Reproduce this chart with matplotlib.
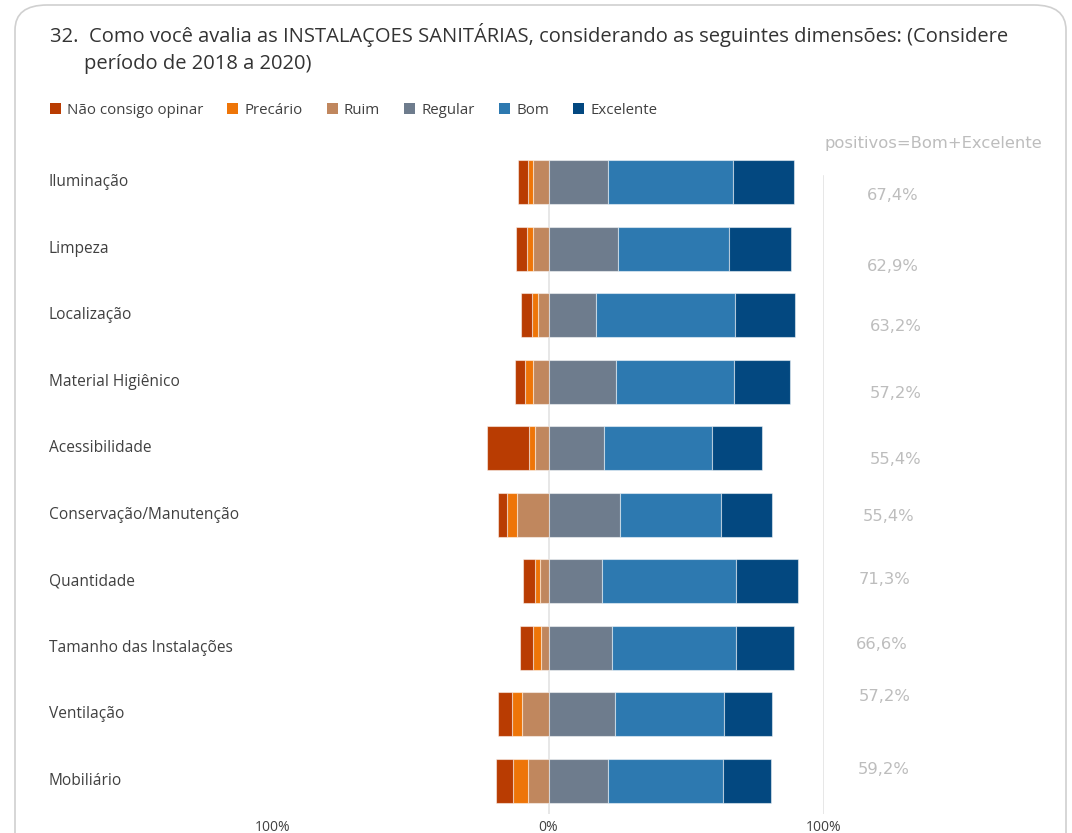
import matplotlib.pyplot as plt
from matplotlib.patches import FancyBboxPatch, Patch
import numpy as np

# Dados
categorias = ["Iluminação", "Limpeza", "Localização", "Material Higiênico", "Acessibilidade",
              "Conservação/Manutenção", "Quantidade", "Tamanho das Instalações", "Ventilação", "Mobiliário"]
nao_opina = [3.6, 4.1, 4.0, 3.6, 15.4, 3.5, 4.3, 4.6, 5.1, 6.1]
precario = [1.8, 2.2, 2.2, 3.0, 2.2, 3.6, 1.8, 2.9, 3.9, 5.3]
ruim = [5.5, 5.5, 3.9, 5.5, 4.8, 11.3, 3.0, 2.8, 9.5, 7.6]
regular = [21.5, 25.3, 17.3, 24.4, 20.1, 26.1, 19.5, 23.0, 24.0, 21.5]
bom = [45.3, 40.3, 50.5, 42.9, 39.1, 36.5, 48.4, 44.9, 39.7, 42.0]
excelente = [22.2, 22.6, 21.6, 20.4, 18.2, 18.4, 22.5, 21.3, 17.5, 17.3]
positivos = ["67,4%", "62,9%", "63,2%", "57,2%", "55,4%", "55,4%", "71,3%", "66,6%", "57,2%", "59,2%"]
# deslocamento dos rótulos de positivos (como no original)
desloc = [0.2, 0.27, 0.17, 0.17, 0.17, 0.02, -0.03, -0.05, -0.26, -0.17]
desloc_x = [125, 125, 126, 126, 126, 123.5, 122, 121, 122, 121.5]

nomes = ["Não consigo opinar", "Precário", "Ruim", "Regular", "Bom", "Excelente"]
cores = ["#B93C02", "#EE7508", "#C0875E", "#6E7C8D", "#2D79B0", "#034880"]

plt.rcParams['font.family'] = ['Open Sans', 'DejaVu Sans']

fig = plt.figure(figsize=(10.72, 8.33), dpi=100)
W, H = 1072, 833

# moldura do cartão
moldura = FancyBboxPatch((15 / W, -0.05), 1051 / W, (833 - 5) / H + 0.05,
                         boxstyle="round,pad=0,rounding_size=0.03",
                         transform=fig.transFigure, facecolor="none",
                         edgecolor="#d0d0d0", linewidth=1.2, zorder=-1)
fig.patches.append(moldura)

ax = fig.add_axes([273 / W, 1 - 814 / H, 551 / W, (814 - 149) / H])
ax.set_facecolor("none")

y = np.arange(len(categorias))
h = 0.66
borda = dict(edgecolor=(1, 1, 1, 0.5), linewidth=0.8)

# lado negativo (a partir do zero para a esquerda)
ruim_a = np.array(ruim)
prec_a = np.array(precario)
nao_a = np.array(nao_opina)
ax.barh(y, -ruim_a, height=h, color=cores[2], **borda)
ax.barh(y, -prec_a, left=-ruim_a, height=h, color=cores[1], **borda)
ax.barh(y, -nao_a, left=-(ruim_a + prec_a), height=h, color=cores[0], **borda)

# lado positivo
reg_a = np.array(regular)
bom_a = np.array(bom)
exc_a = np.array(excelente)
ax.barh(y, reg_a, height=h, color=cores[3], **borda)
ax.barh(y, bom_a, left=reg_a, height=h, color=cores[4], **borda)
ax.barh(y, exc_a, left=reg_a + bom_a, height=h, color=cores[5], **borda)

ax.axvline(0, color="#e3e3e3", linewidth=1.2, ymax=0.98, zorder=0.5)
ax.axvline(100, color="#e3e3e3", linewidth=1.2, ymax=0.96, zorder=0.5)

ax.set_xlim(-100, 100)
ax.set_ylim(len(categorias) - 0.5, -0.5)
ax.set_xticks([-100, 0, 100])
ax.set_xticklabels(["100%", "0%", "100%"], fontsize=10, color="#404040")
ax.tick_params(axis="x", length=0, pad=4)
ax.set_yticks([])
for s in ax.spines.values():
    s.set_visible(False)

# nomes das categorias
for i, c in enumerate(categorias):
    ax.text(-100 - (273 - 49) / 2.75, i, c, ha="left", va="center",
            fontsize=11.2, color="#404040", clip_on=False)

# positivos
ax.text(100 + (933 - 824) / 2.75, -0.58, "positivos=Bom+Excelente",
        ha="center", va="center", fontsize=11.8, color="#bdbdbd",
        family="DejaVu Sans", clip_on=False)
for i, p in enumerate(positivos):
    ax.text(desloc_x[i], i + desloc[i], p, ha="center", va="center",
            fontsize=11.8, color="#bdbdbd", family="DejaVu Sans", clip_on=False)

# título
fig.text(50 / W, 1 - 35 / H, "32.  Como você avalia as INSTALAÇOES SANITÁRIAS, considerando as seguintes dimensões: (Considere",
         fontsize=14.5, color="#333333", va="center", ha="left")
fig.text(84 / W, 1 - 64 / H, "período de 2018 a 2020)",
         fontsize=14.5, color="#333333", va="center", ha="left")

# legenda
handles = [Patch(facecolor=cores[k], edgecolor="none") for k in range(len(nomes))]
fig.legend(handles, nomes, loc="center left", bbox_to_anchor=(36 / W, 1 - 110 / H),
           ncol=6, frameon=False, fontsize=10.8, handlelength=0.75, handleheight=0.75,
           handletextpad=0.4, columnspacing=1.6, labelcolor="#404040")

fig.savefig("out.png", dpi=100)
